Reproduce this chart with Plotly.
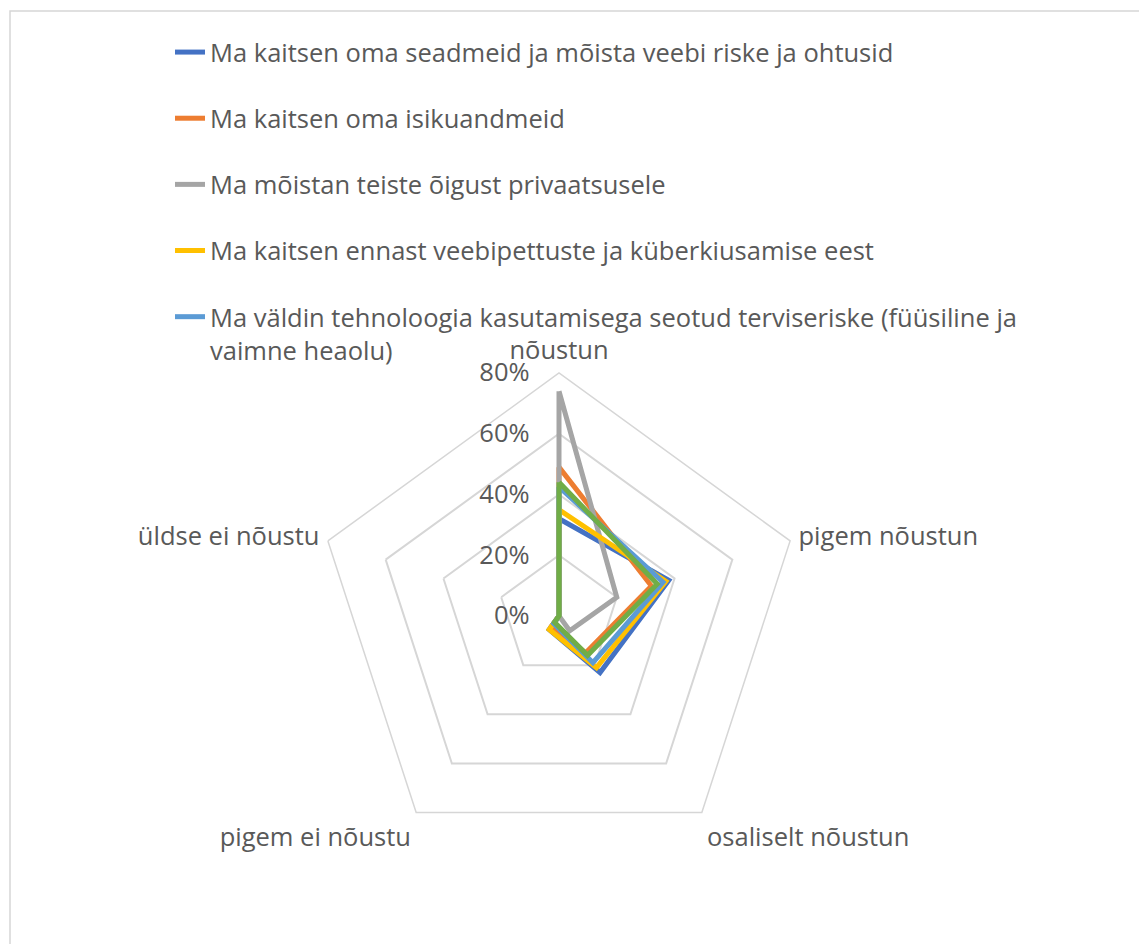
import plotly.graph_objects as go

categories = ["nõustun", "pigem nõustun", "osaliselt nõustun", "pigem ei nõustu", "üldse ei nõustu"]

series_names = [
    "Ma kaitsen oma seadmeid ja mõista veebi riske ja ohtusid",
    "Ma kaitsen oma isikuandmeid",
    "Ma mõistan teiste õigust privaatsusele",
    "Ma kaitsen ennast veebipettuste ja küberkiusamise eest",
    "Ma väldin tehnoloogia kasutamisega seotud terviseriske (füüsiline ja<br>vaimne heaolu)",
    "Muu",
]
seadmed = [0.32, 0.38, 0.23, 0.055, 0.0]
isikuandmed = [0.49, 0.32, 0.15, 0.04, 0.0]
privaatsus = [0.74, 0.20, 0.06, 0.0, 0.0]
pettused = [0.35, 0.37, 0.21, 0.055, 0.0]
tervis = [0.425, 0.36, 0.19, 0.03, 0.0]
muu = [0.44, 0.34, 0.16, 0.025, 0.0]
series_values = [seadmed, isikuandmed, privaatsus, pettused, tervis, muu]
series_colors = ["#4472C4", "#ED7D31", "#A5A5A5", "#FFC000", "#5B9BD5", "#70AD47"]
show_in_legend = [True, True, True, True, True, False]

radial_ticks = [0, 0.2, 0.4, 0.6, 0.8]

W, H = 1147, 944
OFF = 8  # page body margin
cx, cy, R = 559 - OFF, 616 - OFF, 243
FONT = "Open Sans"
FS = 25.5
TXT = "#595959"
GRID = "#D6D6D6"

fig = go.Figure()
for i, (name, vals, col, sl) in enumerate(zip(series_names, series_values, series_colors, show_in_legend)):
    fig.add_trace(go.Scatterpolar(
        r=vals + vals[:1],
        theta=categories + categories[:1],
        mode="lines",
        name=name,
        line=dict(color=col, width=5),
        showlegend=sl,
        legendgroup=f"g{i}",
        hoverinfo="skip",
    ))

fig.update_layout(
    width=W, height=H,
    margin=dict(l=0, r=0, t=0, b=0),
    paper_bgcolor="white",
    plot_bgcolor="white",
    font=dict(family=FONT, size=FS, color=TXT),
    polar=dict(
        domain=dict(x=[(cx - R) / W, (cx + R) / W], y=[(H - cy - R) / H, (H - cy + R) / H]),
        bgcolor="white",
        gridshape="linear",
        radialaxis=dict(
            range=[0, 0.8],
            tickvals=radial_ticks,
            tickformat=".0%",
            angle=90,
            side="counterclockwise",
            tickangle=90,
            showline=False,
            gridcolor=GRID,
            gridwidth=1.5,
            ticks="outside",
            ticklen=20,
            tickcolor="rgba(0,0,0,0)",
            tickfont=dict(family=FONT, size=FS, color=TXT),
        ),
        angularaxis=dict(
            rotation=90,
            direction="clockwise",
            showgrid=False,
            showline=True,
            linecolor=GRID,
            linewidth=1.5,
            ticks="outside",
            ticklen=3,
            tickcolor="rgba(0,0,0,0)",
            tickfont=dict(family=FONT, size=FS, color=TXT),
        ),
    ),
    legend=dict(
        x=(210 - OFF - 40) / W, y=1 - 21 / H, xanchor="left", yanchor="top",
        bgcolor="rgba(0,0,0,0)",
        font=dict(family=FONT, size=FS, color=TXT),
        tracegroupgap=30,
        valign="top",
    ),
    shapes=[dict(
        type="rect", xref="paper", yref="paper",
        x0=(10 - OFF) / W, x1=1.05, y0=-0.05, y1=1 - (11 - OFF) / H,
        line=dict(color=GRID, width=1.5), fillcolor="rgba(0,0,0,0)", layer="below",
    )],
)

fig.write_html("out.html")
